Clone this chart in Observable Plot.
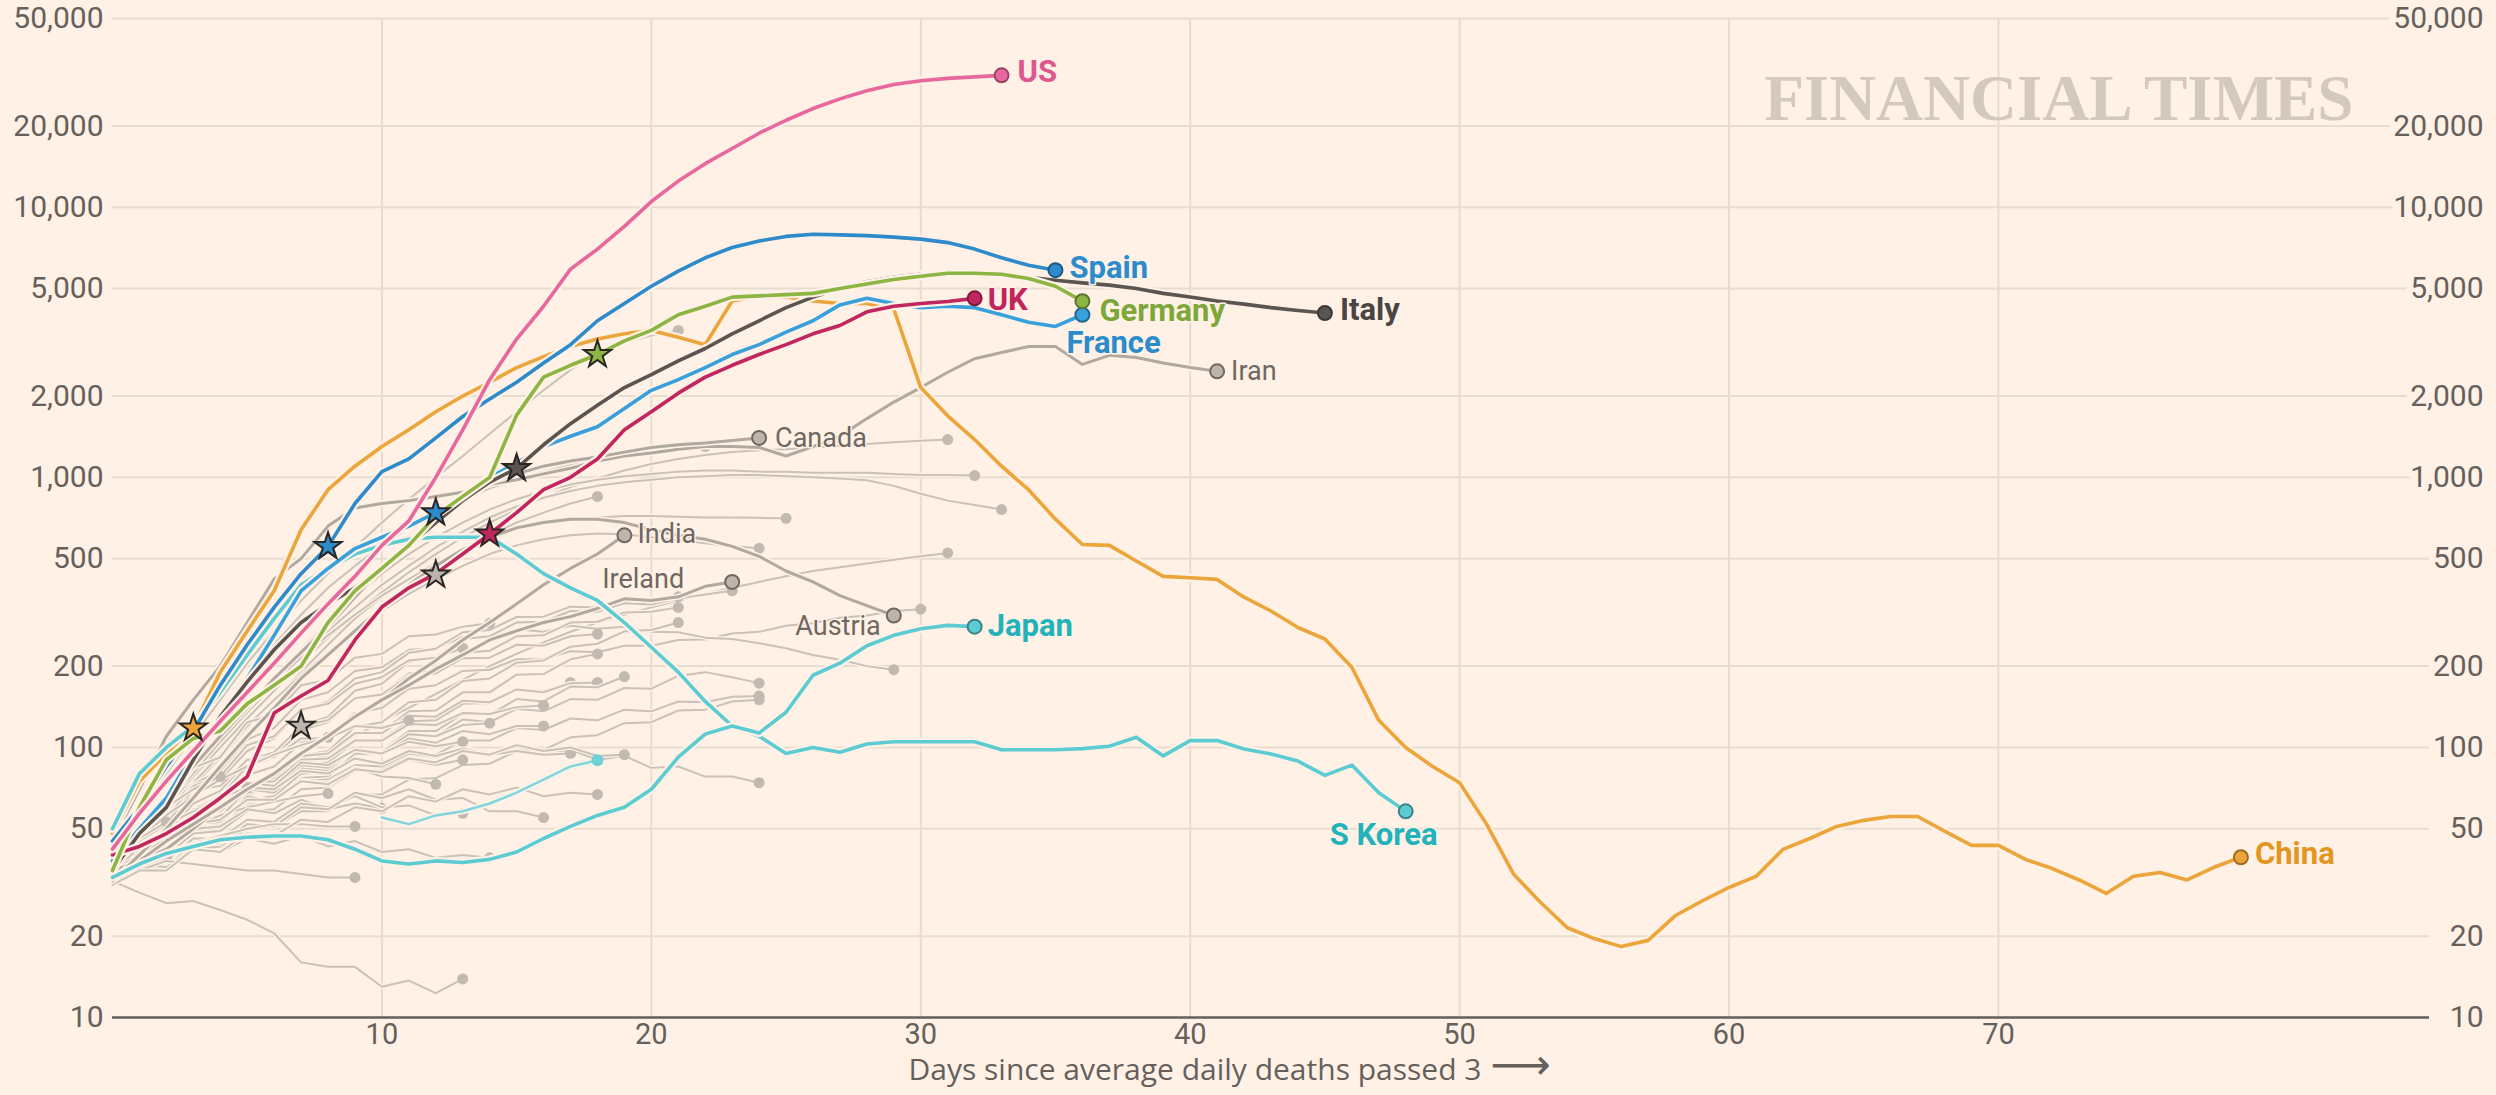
<!DOCTYPE html>
<html>
<head>
<meta charset="utf-8">
<script src="https://cdn.jsdelivr.net/npm/d3@7"></script>
<script src="https://cdn.jsdelivr.net/npm/@observablehq/plot@0.6"></script>
<style>
  html, body { margin: 0; padding: 0; background: #fff1e5; }
  #chart svg { display: block; }
</style>
</head>
<body>
<div id="chart"></div>
<script>
// ---------- DATA (index = days since threshold) ----------
const xTicks = [10, 20, 30, 40, 50, 60, 70];
const yTicks = [10, 20, 50, 100, 200, 500, 1000, 2000, 5000, 10000, 20000, 50000];

const usValues = [42, 57, 75, 97, 125, 160, 205, 265, 340, 430, 560, 690, 1000, 1500, 2300, 3250, 4300, 5900, 7000, 8500, 10500, 12500, 14500, 16500, 18800, 21000, 23200, 25200, 27000, 28500, 29400, 30000, 30400, 30800];
const spainValues = [45, 60, 85, 115, 170, 240, 330, 440, 555, 800, 1050, 1170, 1400, 1680, 1950, 2250, 2650, 3100, 3800, 4400, 5100, 5800, 6500, 7100, 7500, 7800, 7950, 7900, 7850, 7750, 7620, 7400, 7000, 6500, 6100, 5850];
const franceValues = [38, 50, 65, 95, 130, 180, 260, 380, 460, 545, 600, 660, 740, 850, 1000, 1130, 1300, 1420, 1540, 1800, 2100, 2300, 2550, 2850, 3100, 3450, 3800, 4350, 4600, 4400, 4250, 4300, 4250, 4000, 3750, 3620, 4000];
const italyValues = [35, 48, 60, 90, 130, 175, 230, 290, 340, 390, 460, 560, 680, 820, 960, 1080, 1320, 1580, 1850, 2150, 2400, 2700, 3000, 3400, 3800, 4250, 4650, 5000, 5300, 5500, 5650, 5650, 5650, 5600, 5500, 5370, 5250, 5150, 5000, 4800, 4650, 4500, 4380, 4250, 4150, 4060];
const germanyValues = [35, 60, 90, 108, 115, 145, 170, 200, 290, 380, 460, 560, 720, 850, 1000, 1700, 2350, 2600, 2850, 3200, 3500, 4000, 4300, 4650, 4700, 4750, 4800, 5000, 5200, 5400, 5550, 5700, 5700, 5650, 5450, 5100, 4490];
const ukValues = [40, 43, 48, 55, 65, 78, 134, 155, 177, 250, 331, 390, 440, 520, 617, 740, 900, 1000, 1170, 1500, 1750, 2050, 2350, 2600, 2850, 3100, 3400, 3650, 4100, 4300, 4400, 4480, 4600];
const chinaValues = [48, 75, 95, 118, 190, 270, 380, 640, 900, 1100, 1300, 1500, 1750, 2000, 2250, 2550, 2800, 3050, 3250, 3400, 3500, 3300, 3100, 4500, 4700, 4650, 4500, 4400, 4400, 4200, 2150, 1690, 1380, 1100, 900, 700, 564, 560, 490, 430, 425, 419, 360, 320, 278, 252, 198, 126, 100, 85, 74, 52, 34, 26.7, 21.5, 19.6, 18.3, 19.3, 23.8, 27, 30.3, 33.3, 41.9, 46, 51, 53.7, 55.5, 55.5, 49, 43.4, 43.4, 38.5, 35.6, 32.3, 28.8, 33.3, 34.4, 32.3, 36, 39.2];
const japanValues = [33, 37, 40.5, 43, 45.5, 46.5, 47, 47, 45.5, 42, 38, 37, 38, 37.5, 38.5, 41, 46, 51, 56, 60, 70, 92, 112, 120, 113, 135, 185, 205, 238, 260, 275, 283, 280];
const skoreaValues = [50, 80, 100, 120, 160, 220, 300, 400, 460, 520, 560, 590, 600, 600, 600, 520, 440, 390, 350, 290, 235, 190, 148, 120, 110, 95, 100, 96, 103, 105, 105, 105, 105, 98, 98, 98, 99, 101, 109, 93, 106, 106, 98.6, 94.5, 89, 78.8, 86, 68, 58];
const asiaOtherStart = 10;
const asiaOtherValues = [55, 52, 56, 58, 62, 68, 76, 85, 89.6];

const iranValues = [45, 70, 110, 150, 200, 290, 420, 500, 660, 770, 800, 820, 850, 880, 940, 980, 1030, 1080, 1150, 1200, 1230, 1270, 1300, 1300, 1290, 1200, 1300, 1420, 1650, 1900, 2150, 2450, 2750, 2900, 3050, 3050, 2620, 2830, 2780, 2650, 2550, 2470];
const canadaValues = [38, 50, 65, 85, 110, 140, 180, 225, 280, 360, 460, 580, 720, 860, 960, 1030, 1100, 1150, 1190, 1240, 1290, 1320, 1340, 1370, 1400];
const indiaValues = [35, 38, 42, 50, 60, 70, 80, 95, 110, 130, 150, 180, 210, 250, 290, 340, 400, 460, 520, 610];
const irelandValues = [32, 38, 45, 52, 60, 70, 80, 95, 110, 130, 150, 170, 195, 220, 250, 270, 290, 305, 327, 355, 350, 361, 395, 410];
const austriaValues = [32, 40, 50, 65, 85, 110, 140, 180, 220, 270, 330, 400, 470, 540, 600, 650, 680, 700, 700, 680, 640, 610, 590, 555, 510, 450, 410, 365, 335, 308];

// unlabelled countries (grey), each from day 0
const otherCountries = [
  [42, 58, 80, 110, 150, 205, 270, 350, 440, 550, 680, 830, 1000, 1200, 1450, 1750, 2100, 2500, 2900, 3150, 3350, 3500],
  [36, 46, 60, 78, 100, 128, 162, 205, 255, 310, 375, 445, 520, 600, 680, 760, 840, 920, 990, 1060, 1120, 1170, 1210, 1240, 1260, 1270, 1290, 1310, 1330, 1350, 1365, 1380],
  [38, 50, 65, 85, 110, 140, 180, 230, 290, 360, 440, 520, 600, 680, 760, 830, 890, 940, 980, 1010, 1030, 1050, 1060, 1060, 1050, 1050, 1040, 1040, 1040, 1030, 1020, 1020, 1015],
  [36, 48, 62, 80, 105, 135, 170, 215, 270, 330, 400, 470, 550, 630, 710, 780, 840, 890, 930, 960, 980, 1000, 1010, 1020, 1020, 1010, 1000, 990, 975, 930, 870, 820, 790, 760],
  [34, 44, 56, 72, 92, 118, 150, 190, 240, 300, 360, 420, 480, 540, 590, 640, 680, 700, 710, 720, 720, 715, 710, 710, 708, 705],
  [40, 55, 75, 100, 135, 180, 240, 310, 390, 470, 560, 650, 740, 830, 910, 980, 1050, 1110, 1160, 1210, 1250, 1280, 1300],
  [38, 50, 66, 86, 110, 140, 175, 215, 260, 310, 365, 420, 480, 540, 610, 680, 740, 800, 850],
  [33, 38, 44, 50, 58, 66, 75, 86, 98, 110, 125, 140, 158, 178, 200, 222, 245, 268, 290, 310, 330, 350, 370, 390, 410, 430, 450, 465, 480, 495, 510, 525],
  [36, 46, 58, 74, 94, 120, 150, 185, 225, 270, 320, 370, 420, 470, 520, 560, 590, 610, 620, 615, 600, 585, 570, 556, 546],
  [32, 41, 45, 58, 63, 79, 85, 104, 110, 134, 140, 165, 170, 192, 194, 212, 212, 227, 225, 238, 238, 250, 251, 264, 268, 282, 288, 302, 308, 320, 325],
  [35, 46, 54, 73, 82, 107, 118, 150, 160, 192, 198, 230, 232, 257, 255, 274, 268, 282, 275, 280, 268, 267, 255, 252, 243, 233, 220, 211, 200, 194],
  [33, 41, 45, 59, 66, 85, 94, 120, 130, 162, 172, 207, 216, 252, 258, 290, 292, 320, 318, 342, 338, 356, 368, 380],
  [36, 45, 51, 67, 76, 97, 108, 136, 148, 180, 190, 224, 232, 267, 272, 304, 305, 332, 330, 354, 350, 361],
  [34, 41, 45, 59, 66, 85, 92, 116, 124, 152, 158, 188, 192, 224, 228, 258, 260, 290, 292, 316, 318, 330],
  [33, 39, 42, 53, 56, 71, 75, 93, 97, 119, 124, 147, 150, 176, 180, 206, 210, 236, 242, 269, 272, 290],
  [35, 43, 48, 62, 69, 89, 96, 120, 126, 152, 157, 184, 188, 214, 215, 240, 238, 258, 263],
  [33, 39, 42, 54, 57, 71, 74, 91, 93, 112, 114, 136, 137, 160, 160, 186, 187, 212, 222],
  [32, 39, 42, 52, 56, 68, 71, 86, 88, 105, 107, 125, 126, 145, 146, 163, 162, 174],
  [34, 41, 45, 57, 60, 74, 77, 93, 95, 113, 113, 131, 130, 149, 147, 164, 160, 173, 174],
  [33, 38, 40, 50, 52, 64, 66, 80, 81, 97, 97, 115, 115, 133, 132, 151, 148, 168, 167, 183],
  [32, 37, 39, 49, 50, 62, 63, 77, 78, 95, 94, 111, 110, 127, 124, 139, 136, 151, 150, 166, 165, 184, 190, 182, 173],
  [33, 38, 40, 48, 49, 58, 59, 70, 71, 82, 82, 94, 94, 106, 106, 118, 116, 128, 126, 138, 136, 148, 147, 154, 155],
  [31, 35, 35, 42, 43, 50, 51, 58, 58, 67, 67, 76, 77, 86, 87, 97, 98, 109, 111, 123, 124, 137, 138, 148, 150],
  [36, 41, 43, 51, 53, 63, 64, 75, 76, 86, 85, 95, 92, 100, 95, 101, 94, 98, 90, 93, 84, 85, 78, 78, 74],
  [38, 52, 60, 84, 92, 124, 132, 170, 178, 215, 222, 258, 262, 280, 288],
  [34, 44, 55, 72, 78, 102, 110, 138, 145, 172, 182, 210, 215, 233],
  [33, 41, 45, 57, 60, 74, 75, 90, 91, 106, 106, 122, 121, 134, 133, 141, 143],
  [35, 46, 52, 70, 72, 90, 92, 108, 108, 120, 118, 126],
  [32, 40, 42, 55, 55, 70, 68, 84, 82, 98, 96, 112, 110, 121, 123],
  [34, 43, 46, 59, 59, 73, 71, 86, 84, 98, 94, 108, 104, 115, 112, 120, 120],
  [36, 46, 56, 66, 76, 85, 94, 102, 109],
  [33, 42, 44, 58, 58, 74, 72, 88, 86, 98, 95, 105, 101, 105],
  [32, 40, 41, 53, 52, 66, 63, 76, 72, 84, 80, 90, 86, 90],
  [34, 43, 45, 58, 58, 71, 70, 82, 80, 91, 87, 97, 93, 99, 94, 97, 94, 95],
  [40, 50, 60, 70, 78],
  [38, 45, 52, 58, 65, 71],
  [33, 39, 42, 52, 53, 64, 63, 75, 74, 84, 78, 77, 73],
  [35, 40, 46, 51, 56, 60, 63, 66, 67.5],
  [33, 39, 41, 50, 51, 59, 57, 64, 59, 62, 59.5],
  [32, 37, 38, 46, 46, 54, 53, 62, 60, 66, 60, 61, 56, 57],
  [31, 35, 36, 44, 44, 52, 51, 60, 59, 68, 65, 70, 64, 65, 58, 58, 55],
  [33, 37, 41, 44, 47, 50, 52, 52, 51, 51],
  [38, 46, 53],
  [33, 37, 36, 42, 41, 46, 44, 47, 43, 45, 41, 42, 39, 40, 39],
  [32, 36, 39],
  [33, 36],
  [32, 35, 38, 37, 36, 35, 35, 34, 33, 33],
  [32, 29, 26.5, 27, 25, 23, 20.5, 16, 15.4, 15.4, 13, 13.7, 12.3, 13.9],
  [33, 39, 42, 52, 54, 64, 64, 75, 73, 83, 81, 91, 88, 97, 94, 102, 97, 100, 93, 94],
  [31, 35, 35, 42, 41, 48, 47, 54, 53, 60, 58, 66, 63, 70, 67, 71, 66, 68, 67]
];

// lockdown stars
const starCountries = ["China", "Other", "Spain", "France", "Other", "UK", "Italy", "Germany"];
const starDays = [3, 7, 8, 12, 12, 14, 15, 18];
const starValues = [118, 120, 555, 740, 435, 617, 1080, 2850];

// ---------- STYLE ----------
const bg = "#fff1e5";
const gridColor = "#e8dccf";
const axisColor = "#66605c";
const FONT = "Roboto, 'Open Sans', sans-serif";

const highlight = [
  {name: "China",   values: chinaValues,   line: "#eca53a", text: "#e3961f"},
  {name: "S Korea", values: skoreaValues,  line: "#5ccbd2", text: "#22b2ba"},
  {name: "Japan",   values: japanValues,   line: "#5ccbd2", text: "#22b2ba"},
  {name: "France",  values: franceValues,  line: "#38a0dc", text: "#2b8bcb"},
  {name: "Spain",   values: spainValues,   line: "#2d8acb", text: "#2b8bcb"},
  {name: "Italy",   values: italyValues,   line: "#5b5450", text: "#4a4542"},
  {name: "UK",      values: ukValues,      line: "#c2265e", text: "#c2245d"},
  {name: "Germany", values: germanyValues, line: "#8cb543", text: "#7ea73a"},
  {name: "US",      values: usValues,      line: "#e8679c", text: "#df568e"}
];
const labelledGrey = [
  {name: "Iran", values: iranValues},
  {name: "Canada", values: canadaValues},
  {name: "India", values: indiaValues},
  {name: "Ireland", values: irelandValues},
  {name: "Austria", values: austriaValues}
];
const labelPlace = {
  US: {dx: 16, dy: -3, anchor: "start"},
  Spain: {dx: 14, dy: -2, anchor: "start"},
  UK: {dx: 13, dy: 2, anchor: "start"},
  Germany: {dx: 17, dy: 10, anchor: "start"},
  France: {dx: -16, dy: 28, anchor: "start"},
  Italy: {dx: 15, dy: -3, anchor: "start"},
  Japan: {dx: 13, dy: -1, anchor: "start"},
  "S Korea": {dx: -22, dy: 24, anchor: "middle"},
  China: {dx: 14, dy: -3, anchor: "start"},
  Iran: {dx: 14, dy: 0, anchor: "start"},
  Canada: {dx: 16, dy: 0, anchor: "start"},
  India: {dx: 13, dy: -1, anchor: "start"},
  Ireland: {dx: -48, dy: -3, anchor: "end"},
  Austria: {dx: -13, dy: 11, anchor: "end"}
};
const starColor = {China: "#eca53a", Other: "#bdb5ad", Spain: "#2d8acb", France: "#2d8acb", UK: "#c2265e", Italy: "#5b5450", Germany: "#8cb543"};

// ---------- BUILD ----------
const rows = (name, values, start = 0) => values.map((v, i) => ({name, day: start + i, value: v}));
const last = (r) => [r[r.length - 1]];
const fmt = d3.format(",");

const marks = [
  Plot.gridY(yTicks, {stroke: gridColor, strokeOpacity: 1, strokeWidth: 2}),
  Plot.gridX(xTicks, {stroke: gridColor, strokeOpacity: 1, strokeWidth: 2}),
  Plot.ruleY([10], {stroke: axisColor, strokeWidth: 2.5}),
  Plot.axisX(xTicks, {tickSize: 0, tickPadding: 6, fontSize: 29, fill: axisColor, label: null}),
  Plot.axisY(yTicks, {anchor: "left", tickSize: 0, tickPadding: 9, tickFormat: fmt, fontSize: 30, fill: axisColor, label: null}),
  Plot.text(yTicks, {y: d => d, frameAnchor: "right", dx: 54, textAnchor: "end", text: d => fmt(d),
    fill: axisColor, stroke: bg, strokeWidth: 14, fontSize: 30}),
  Plot.text(["FINANCIAL TIMES"], {frameAnchor: "top-right", dx: -76, dy: 55, textAnchor: "end", text: d => d,
    fontFamily: "'Liberation Serif', 'DejaVu Serif', serif", fontWeight: 700, fontSize: 65, fill: "#d3c9be"}),
  Plot.text(["Days since average daily deaths passed 3"], {frameAnchor: "bottom-left", dx: 1369, dy: 62,
    textAnchor: "end", text: d => d, fontSize: 30, fill: axisColor, fontFamily: "'Open Sans', Roboto, sans-serif"}),
  Plot.text(["⟶"], {frameAnchor: "bottom-left", dx: 1378, dy: 61, textAnchor: "start", text: d => d,
    fontSize: 42, fill: axisColor, fontFamily: "'DejaVu Sans', sans-serif"})
];

// grey unlabelled lines
otherCountries.forEach((vals, i) => {
  const r = rows("other" + i, vals);
  marks.push(Plot.line(r, {x: "day", y: "value", stroke: bg, strokeWidth: 4.5}));
  marks.push(Plot.line(r, {x: "day", y: "value", stroke: "#cac1b8", strokeWidth: 2}));
  marks.push(Plot.dot(last(r), {x: "day", y: "value", r: 5.5, fill: "#c2b9b0"}));
});

// labelled grey lines
labelledGrey.forEach(s => {
  const r = rows(s.name, s.values);
  marks.push(Plot.line(r, {x: "day", y: "value", stroke: bg, strokeWidth: 6}));
  marks.push(Plot.line(r, {x: "day", y: "value", stroke: "#b1a8a0", strokeWidth: 3}));
});

// short cyan series
{
  const r = rows("Other Asia", asiaOtherValues, asiaOtherStart);
  marks.push(Plot.line(r, {x: "day", y: "value", stroke: bg, strokeWidth: 6}));
  marks.push(Plot.line(r, {x: "day", y: "value", stroke: "#7fd6dc", strokeWidth: 2.5}));
  marks.push(Plot.dot(last(r), {x: "day", y: "value", r: 6, fill: "#6fd0d6"}));
}

// highlighted lines
highlight.forEach(s => {
  const r = rows(s.name, s.values);
  marks.push(Plot.line(r, {x: "day", y: "value", stroke: bg, strokeWidth: 8}));
  marks.push(Plot.line(r, {x: "day", y: "value", stroke: s.line, strokeWidth: 3.6}));
});

// stars
const stars = starDays.map((d, i) => ({name: starCountries[i], day: d, value: starValues[i]}));
marks.push(Plot.dot(stars, {x: "day", y: "value", symbol: "star", r: 8.5, fill: d => starColor[d.name],
  stroke: "#2a2624", strokeWidth: 2}));

// end dots + labels for labelled grey
labelledGrey.forEach(s => {
  const e = last(rows(s.name, s.values));
  const p = labelPlace[s.name];
  marks.push(Plot.dot(e, {x: "day", y: "value", r: 7, fill: "#bdb4ab", stroke: "#6f6862", strokeWidth: 2}));
  marks.push(Plot.text(e, {x: "day", y: "value", text: "name", dx: p.dx, dy: p.dy, textAnchor: p.anchor,
    fontSize: 27, fill: "#6f6862", stroke: bg, strokeWidth: 3}));
});

// end dots + labels for highlighted
highlight.forEach(s => {
  const e = last(rows(s.name, s.values));
  const p = labelPlace[s.name];
  marks.push(Plot.dot(e, {x: "day", y: "value", r: 7, fill: s.line, stroke: d3.color(s.line).darker(1.2).formatHex(), strokeWidth: 2}));
  marks.push(Plot.text(e, {x: "day", y: "value", text: "name", dx: p.dx, dy: p.dy, textAnchor: p.anchor,
    fontSize: 31, fontWeight: 700, fill: s.text, stroke: bg, strokeWidth: 3}));
});

const chart = Plot.plot({
  width: 2496,
  height: 1095,
  marginLeft: 112,
  marginRight: 67,
  marginTop: 18,
  marginBottom: 78,
  style: {background: bg, fontFamily: FONT, color: axisColor},
  x: {domain: [0, 86]},
  y: {type: "log", domain: [10, 50000]},
  marks
});
document.getElementById("chart").appendChild(chart);
</script>
</body>
</html>
